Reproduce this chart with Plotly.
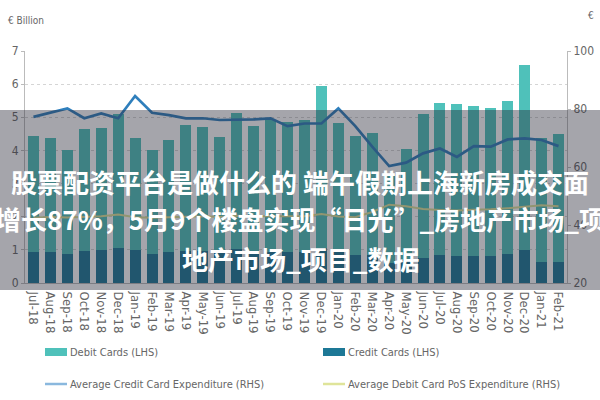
import plotly.graph_objects as go

months = ["Jul-18","Aug-18","Sep-18","Oct-18","Nov-18","Dec-18","Jan-19","Feb-19","Mar-19","Apr-19",
          "May-19","Jun-19","Jul-19","Aug-19","Sep-19","Oct-19","Nov-19","Dec-19","Jan-20","Feb-20",
          "Mar-20","Apr-20","May-20","Jun-20","Jul-20","Aug-20","Sep-20","Oct-20","Nov-20","Dec-20",
          "Jan-21","Feb-21"]

credit_cards = [0.93,0.93,0.87,0.97,1.01,1.05,0.99,0.87,0.93,0.98,
                0.98,0.96,1.03,0.97,0.94,0.95,0.95,1.05,0.95,0.86,
                0.85,0.60,0.70,0.74,0.83,0.82,0.82,0.82,0.88,1.00,
                0.64,0.64]
total_cards = [4.44,4.37,4.01,4.64,4.67,5.10,4.37,4.01,4.31,4.77,
               4.71,4.40,5.14,4.75,4.92,4.87,4.92,5.94,4.84,4.43,
               4.54,3.30,4.03,5.10,5.44,5.39,5.34,5.29,5.50,6.58,
               4.37,4.49]
debit_cards = [round(t - c, 2) for t, c in zip(total_cards, credit_cards)]

avg_credit_exp = [77.3,78.7,80.2,76.8,78.5,76.8,84.5,78.7,77.9,76.8,
                  76.8,76.2,76.2,76.4,76.8,74.1,75.0,75.0,80.2,74.1,
                  67.0,60.3,61.5,64.7,66.4,63.5,67.2,67.0,69.5,69.9,
                  69.3,67.2]
avg_debit_pos_exp = [42.5,42.8,42.6,42.9,43.0,43.6,42.7,42.5,42.7,43.0,
                     43.0,42.8,43.2,43.0,43.1,43.0,43.0,43.8,42.9,42.7,
                     44.5,47.0,46.5,45.5,45.2,45.0,45.3,45.4,45.8,46.2,
                     46.8,46.5]

left_ticks = [0, 1, 2, 3, 4, 5, 6, 7]
right_ticks = [20, 40, 60, 80, 100]

title_lines = ["股票配资平台是做什么的 端午假期上海新房成交面",
               "积增长87%，5月9个楼盘实现“日光”_房地产市场_项目",
               "地产市场_项目_数据"]

DEBIT = "#4fc1ba"
CREDIT = "#1d7896"
LINE_CREDIT = "#2f7fbc"
LINE_DEBIT = "#dfe49a"
GRAY = "#666666"
FONT = "Liberation Sans Narrow, DejaVu Sans Condensed, Arial, sans-serif"

fig = go.Figure()
fig.add_trace(go.Bar(x=months, y=credit_cards, name="Credit Cards (LHS)", marker_color=CREDIT,
                     marker_line_width=0))
fig.add_trace(go.Bar(x=months, y=debit_cards, name="Debit Cards (LHS)", marker_color=DEBIT,
                     marker_line_width=0))
fig.add_trace(go.Scatter(x=months, y=avg_credit_exp, yaxis="y2", mode="lines",
                         name="Average Credit Card Expenditure (RHS)",
                         line=dict(color=LINE_CREDIT, width=2.7)))
fig.add_trace(go.Scatter(x=months, y=avg_debit_pos_exp, yaxis="y2", mode="lines",
                         name="Average Debit Card PoS Expenditure (RHS)",
                         line=dict(color=LINE_DEBIT, width=2)))

# plot area in pixels: x 25..567, y 51..283
L, R, T, B = 25, 567, 51, 283
W, H = R - L, B - T
def px(x):
    return (x - L) / W
def py(y):
    return (B - y) / H

shapes = []
annotations = []

# legend (manual)
leg = [(45, 352, "rect", DEBIT, "Debit Cards (LHS)"),
       (323, 352, "rect", CREDIT, "Credit Cards (LHS)"),
       (45, 384, "line", "#8ab8de", "Average Credit Card Expenditure (RHS)"),
       (323, 384, "line", LINE_DEBIT, "Average Debit Card PoS Expenditure (RHS)")]
for x0, yc, kind, col, txt in leg:
    if kind == "rect":
        shapes.append(dict(type="rect", xref="paper", yref="paper", x0=px(x0), x1=px(x0 + 22),
                           y0=py(yc + 4), y1=py(yc - 4), fillcolor=col, line_width=0))
    else:
        shapes.append(dict(type="line", xref="paper", yref="paper", x0=px(x0), x1=px(x0 + 22),
                           y0=py(yc), y1=py(yc), line=dict(color=col, width=2.5)))
    annotations.append(dict(xref="paper", yref="paper", x=px(x0 + 23), y=py(yc), text=txt,
                            showarrow=False, xanchor="left", yanchor="middle",
                            font=dict(family=FONT, size=11, color=GRAY)))

# axis unit labels
annotations.append(dict(xref="paper", yref="paper", x=px(6), y=py(20), text="€ Billion",
                        showarrow=False, xanchor="left", yanchor="middle",
                        font=dict(family=FONT, size=10, color=GRAY)))
annotations.append(dict(xref="paper", yref="paper", x=px(591), y=py(16), text="€",
                        showarrow=False, xanchor="center", yanchor="middle",
                        font=dict(family=FONT, size=10, color=GRAY)))

# dark overlay band
shapes.append(dict(type="rect", xref="paper", yref="paper", x0=px(-5), x1=px(605),
                   y0=py(290), y1=py(110), fillcolor="rgba(40,40,55,0.42)", line_width=0,
                   layer="above"))

for txt, yc in zip(title_lines, [181, 218, 258]):
    annotations.append(dict(xref="paper", yref="paper", x=px(300), y=py(yc), text=txt,
                            showarrow=False, xanchor="center", yanchor="middle",
                            font=dict(family="Noto Sans CJK SC", size=26, color="white",
                                      weight="bold")))

fig.update_layout(
    width=600, height=400,
    margin=dict(l=L, r=600 - R, t=T, b=400 - B, autoexpand=False),
    paper_bgcolor="white", plot_bgcolor="white",
    barmode="stack", bargap=0.35, showlegend=False,
    font=dict(family=FONT, color=GRAY),
    xaxis=dict(type="category", tickangle=90, tickfont=dict(size=13, color=GRAY),
               showline=True, linecolor="#bbbbbb", linewidth=1, ticks="outside", ticklen=5,
               tickcolor="rgba(0,0,0,0)", showgrid=False, automargin=False),
    yaxis=dict(range=[0, 7], tickvals=left_ticks, tickfont=dict(size=12, color=GRAY),
               showline=True, linecolor="#bbbbbb", linewidth=1, ticks="outside", ticklen=3,
               tickcolor="#bbbbbb", showgrid=True, gridcolor="#d5d5d5", griddash="dot",
               zeroline=False, automargin=False),
    yaxis2=dict(range=[20, 100], tickvals=right_ticks, overlaying="y", side="right",
                tickfont=dict(size=12, color=GRAY), showline=True, linecolor="#bbbbbb",
                linewidth=1, ticks="outside", ticklen=3, tickcolor="#bbbbbb",
                showgrid=False, zeroline=False, automargin=False),
    shapes=shapes, annotations=annotations,
)

fig.write_html("out.html", config={"displayModeBar": False},
               post_script="document.body.style.margin='0';document.body.style.overflow='hidden';")
